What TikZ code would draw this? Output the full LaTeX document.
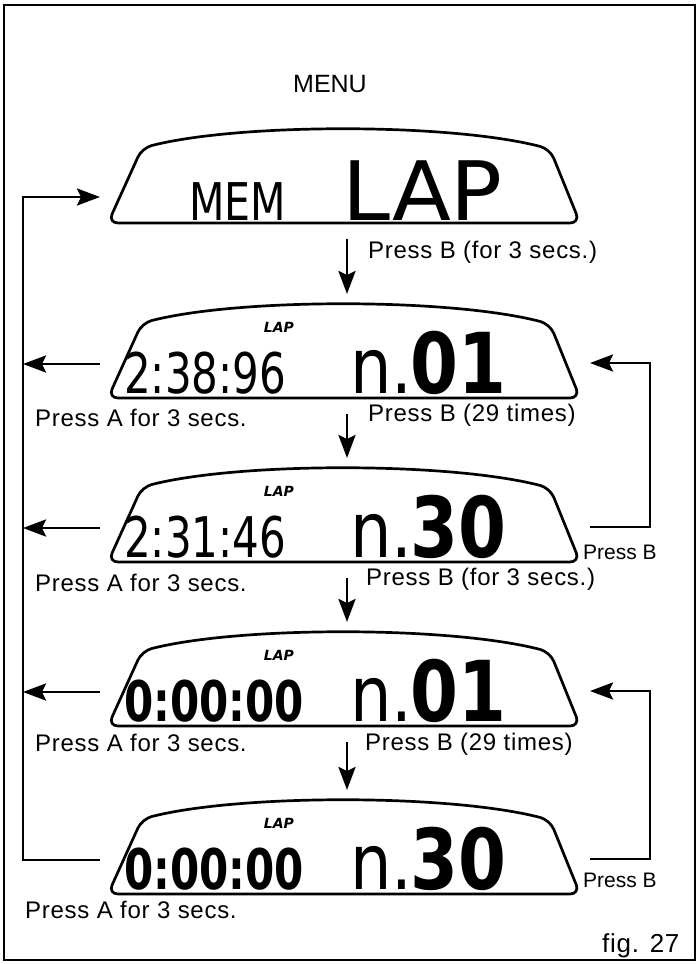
\documentclass[tikz,border=0pt]{standalone}
\usepackage{fontspec}
\setmainfont{Liberation Sans}
\newfontfamily\capfont{Liberation Sans}[LetterSpace=3]
\newfontfamily\lcdfont{DejaVu Sans}
\usetikzlibrary{arrows.meta}

\begin{document}
\begin{tikzpicture}[x=1pt,y=-1pt,
  panel/.style={line width=2.7pt,rounded corners=10pt},
  arr/.style={line width=2.9pt,-{Stealth[length=23pt,width=17pt,inset=4pt]}},
  lbl/.style={font=\capfont\fontsize{24}{24}\selectfont,inner sep=0pt,anchor=base west},
  side/.style={font=\fontsize{21}{21}\selectfont,inner sep=0pt,anchor=base west},
  seg/.style={font=\lcdfont\fontsize{56}{56}\selectfont,inner sep=0pt,anchor=base west,text depth=0pt},
  big/.style={font=\lcdfont\bfseries\fontsize{84}{84}\selectfont,inner sep=0pt,anchor=base west,
    text height=61pt,text depth=0pt},
  tag/.style={font=\lcdfont\bfseries\itshape\fontsize{14}{14}\selectfont,inner sep=0pt,anchor=base},
  pics/lcd/.style={code={
    \draw[panel] (340,0) -- (108,0) -- (142,-75)
      .. controls (240,-100) and (450,-100) .. (550,-74) -- (580,0) -- cycle;
    \coordinate (-w) at (100,-34);
    \coordinate (-e) at (590,-35);
    \coordinate (-s) at (347,16);
    \coordinate (-n) at (347,-104);
  }}]
  \useasboundingbox (0,0) rectangle (699,964);
  \draw[line width=1.5pt] (4,5) rectangle (695,960);
  \node[font=\fontsize{25}{25}\selectfont,anchor=base] (menu) at (330,92) {MENU};

  \foreach \i/\b in {1/223,2/398,3/562,4/726,5/894}
    \pic (d\i) at (0,\b) {lcd};

  \node[seg,font=\lcdfont\fontsize{52}{52}\selectfont] (mem) at (189,220) {\scalebox{0.79}[1]{MEM}};
  \node[seg,font=\lcdfont\fontsize{82}{82}\selectfont] (lapbig) at (342,220) {\scalebox{1.05}[1]{LAP}};
  \foreach \i/\b/\t/\m in {2/398/2:38:96/01,3/562/2:31:46/30,
      4/726/\bfseries 0:00:00/01,5/894/\bfseries 0:00:00/30}{
    \node[tag] (lap\i) at (279,\b-66) {LAP};
    \node[seg] (clock\i) at (124,\b-5) {\scalebox{0.75}[1]{\t}};
    \node[seg,font=\lcdfont\fontsize{77}{77}\selectfont] (n\i) at (350,\b-5) {\scalebox{0.85}[1]{n.}};
    \node[big] (count\i) at (410,\b-5) {\scalebox{0.82}[1]{\m}};
  }

  \node[lbl] (pb1) at (368,258) {Press B (for 3 secs.)};
  \node[lbl] (pb2) at (368,421) {Press B (29 times)};
  \node[lbl] (pb3) at (366,585) {Press B (for 3 secs.)};
  \node[lbl] (pb4) at (365,750) {Press B (29 times)};
  \node[lbl] (pa2) at (35,426) {Press A for 3 secs.};
  \node[lbl] (pa3) at (35,591) {Press A for 3 secs.};
  \node[lbl] (pa4) at (35,751) {Press A for 3 secs.};
  \node[lbl] (pa5) at (25,918) {Press A for 3 secs.};
  \node[side] (pr3) at (583,559) {Press B};
  \node[side] (pr5) at (583,887) {Press B};
  \node[font=\capfont\fontsize{26}{26}\selectfont,anchor=base east] (fig) at (683,952) {fig. 27};

  \coordinate (loopL) at (23,0);
  \coordinate (loopR) at (650,0);
  \coordinate (menuin) at (100,197);
  \draw[arr] (d5-w) -- (d5-w -| loopL) |- (menuin);
  \foreach \i in {2,3,4}
    \draw[arr] (d\i-w) -- (d\i-w -| loopL);
  \draw[arr] (d3-e) -- (d3-e -| loopR) |- (d2-e);
  \draw[arr] (d5-e) -- (d5-e -| loopR) |- (d4-e);
  \foreach \i/\j in {1/2,2/3,3/4,4/5}
    \draw[arr] (d\i-s) -- (d\j-n);
\end{tikzpicture}
\end{document}
